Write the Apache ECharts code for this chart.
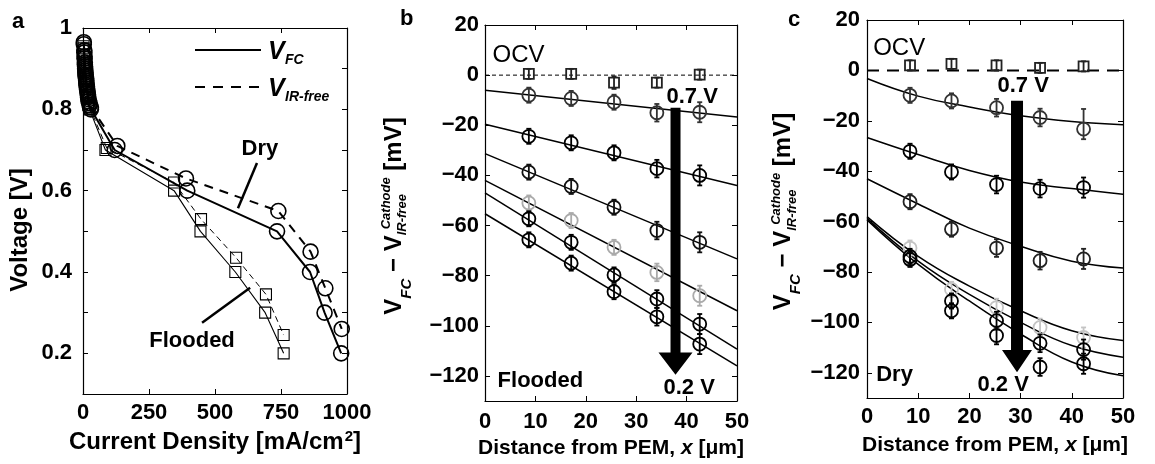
<!DOCTYPE html>
<html><head><meta charset="utf-8">
<script src="https://cdn.jsdelivr.net/npm/echarts@6/dist/echarts.min.js"></script>
<style>html,body{margin:0;padding:0;background:#fff}#c{width:1155px;height:464px}</style>
</head><body><div id="c"></div>
<script>
const FONT = '"Liberation Sans", Arial, Helvetica, sans-serif';

// ---------------- Panel a : polarization curves ----------------
const aXTicks = [0, 250, 500, 750, 1000];
const aYTicks = [0.2, 0.3, 0.4, 0.5, 0.6, 0.7, 0.8, 0.9, 1];
const aYLabels = [0.2, 0.4, 0.6, 0.8, 1];
const aDryFC = [[3,0.96],[5,0.94],[6,0.925],[7,0.91],[8,0.90],[9,0.89],[10,0.88],[12,0.87],[13,0.86],[15,0.85],[17,0.84],[19,0.83],[21,0.82],[25,0.81],[30,0.80],[120,0.70],[395,0.60],[735,0.50],[860,0.40],[915,0.30],[978,0.20]];
const aDryIR = [[3,0.965],[5,0.945],[6,0.93],[7,0.915],[8,0.905],[9,0.895],[10,0.885],[12,0.875],[13,0.865],[15,0.855],[17,0.845],[19,0.835],[21,0.825],[25,0.815],[30,0.805],[130,0.71],[390,0.63],[740,0.55],[862,0.45],[918,0.36],[980,0.26]];
const aFloFC = [[2,0.95],[4,0.93],[6,0.91],[8,0.89],[10,0.87],[13,0.85],[16,0.83],[20,0.81],[25,0.80],[85,0.70],[345,0.60],[445,0.50],[577,0.40],[690,0.30],[760,0.20]];
const aFloIR = [[2,0.955],[4,0.935],[6,0.915],[8,0.895],[10,0.875],[13,0.855],[16,0.835],[20,0.815],[25,0.805],[90,0.705],[345,0.62],[447,0.53],[580,0.435],[693,0.345],[760,0.245]];

// ---------------- Panel b : Flooded ----------------
const xTicksBC = [0, 10, 20, 30, 40, 50];
const yTicksBC = [-120, -100, -80, -60, -40, -20, 0, 20];
const bX = [8.7, 17.1, 25.6, 34.1, 42.6];
const bOCV = [0.5, 0.5, -3.0, -3.0, 0.2];
const bOCVErr = [2, 2, 2.5, 2, 2];
const bS1 = [-8.0, -9.3, -10.8, -15.0, -14.8];
const bS2 = [-24.4, -27.0, -31.0, -37.3, -40.0];
const bS3 = [-38.7, -44.4, -52.7, -62.0, -66.7];
const bS4 = [-51.0, -58.0, -68.7, -78.7, -88.0];
const bS5 = [-57.3, -66.7, -79.7, -89.3, -99.3];
const bS6 = [-65.7, -75.0, -86.4, -96.4, -107.3];
const bErr = [3, 3, 3, 3.5, 4];
const bFitX = [0, 50];
const bF1 = [-6.0, -16.7];
const bF2 = [-19.6, -44.0];
const bF3 = [-31.3, -73.3];
const bF4 = [-42.0, -94.0];
const bF5 = [-47.0, -109.3];
const bF6 = [-55.3, -116.0];

// ---------------- Panel c : Dry ----------------
const cX = [8.4, 16.5, 25.3, 33.8, 42.3];
const cOCV = [2.0, 2.6, 2.0, 1.0, 1.6];
const cOCVErr = [2, 2, 2, 2, 2];
const cS1 = [-9.9, -12.1, -14.8, -18.7, -23.3];
const cS2 = [-32.1, -40.3, -45.3, -46.9, -46.5];
const cS3 = [-52.1, -63.0, -70.5, -75.5, -74.8];
const cS4 = [-70.5, -86.9, -94.1, -102.0, -106.0];
const cS5 = [-73.8, -91.5, -99.3, -108.3, -110.8];
const cS6 = [-75.0, -95.4, -105.2, -117.7, -116.4];
const cErr = [3, 3, 3.5, 3.5, 4];
const cErrTop = [3, 3, 3.5, 3.5, 8];
const cFitX = [0, 10, 20, 30, 40, 50];
const cF1 = [-3.2, -10.2, -14.5, -18.0, -20.3, -21.6];
const cF2 = [-26.6, -33.4, -39.7, -44.3, -46.9, -49.1];
const cF3 = [-43.0, -53.0, -62.6, -69.8, -75.7, -78.4];
const cF4 = [-58.0, -73.8, -85.6, -95.4, -103.3, -107.2];
const cF5 = [-58.7, -75.7, -88.9, -100.0, -109.2, -113.8];
const cF6 = [-59.3, -77.0, -91.5, -104.6, -115.7, -121.2];

// arrows: [x, yTop, yHeadBase, yTip]
const bArrow = [37.8, -13, -110.7, -119.5];
const cArrow = [29.3, -12, -111, -119.8];

// ---------------- helpers ----------------
const zip = (xs, ys) => xs.map((x, i) => [x, ys[i]]);
const zip3 = (xs, ys, es) => xs.map((x, i) => [x, ys[i], es[i]]);
const minus = v => (v < 0 ? '\u2212' + Math.abs(v) : String(v));

const tickLbl = {color:'#000', fontSize:22, fontWeight:'bold', fontFamily:FONT};

function axesFor(grid, xr, yr, xTicks, yTicks, yLabels, xMargin, yMargin, xName, xGap, xNameSize) {
  const tick = {show:true, inside:true, length:5, lineStyle:{color:'#000', width:1}};
  const line = {show:true, onZero:false, lineStyle:{color:'#000', width:1.2}};
  const xs = [
    {type:'value', gridIndex:grid, min:xr[0], max:xr[1], position:'bottom',
     axisLine:line, splitLine:{show:false},
     axisTick:Object.assign({customValues:xTicks}, tick),
     axisLabel:Object.assign({customValues:xTicks, margin:xMargin, formatter:minus}, tickLbl),
     name:xName, nameLocation:'middle', nameGap:xGap,
     nameTextStyle:{color:'#000', fontSize:xNameSize, fontWeight:'bold', fontFamily:FONT,
       rich:{i:{fontStyle:'italic', fontWeight:'bold', fontSize:xNameSize, fontFamily:FONT, color:'#000'},
             s:{fontWeight:'bold', fontSize:15, fontFamily:FONT, color:'#000', verticalAlign:'top', padding:[0,0,12,1]}}}},
    {type:'value', gridIndex:grid, min:xr[0], max:xr[1], position:'top',
     axisLine:line, splitLine:{show:false}, axisLabel:{show:false},
     axisTick:Object.assign({customValues:xTicks}, tick)}
  ];
  const ys = [
    {type:'value', gridIndex:grid, min:yr[0], max:yr[1], position:'left',
     axisLine:line, splitLine:{show:false},
     axisTick:Object.assign({customValues:yTicks}, tick),
     axisLabel:Object.assign({customValues:yLabels, margin:yMargin, formatter:minus}, tickLbl)},
    {type:'value', gridIndex:grid, min:yr[0], max:yr[1], position:'right',
     axisLine:line, splitLine:{show:false}, axisLabel:{show:false},
     axisTick:Object.assign({customValues:yTicks}, tick)}
  ];
  return {xs, ys};
}

const A = axesFor(0, [0,1000], [0.1,1], aXTicks, aYTicks, aYLabels, 8, 11, 'Current Density [mA/cm{s|2}]', 30, 24);
const B = axesFor(1, [0,50], [-130,20], xTicksBC, yTicksBC, yTicksBC, 10, 6, 'Distance from PEM, {i|x} [\u03bcm]', 33, 21);
const C = axesFor(2, [0,50], [-130,20], xTicksBC, yTicksBC, yTicksBC, 8, 7, 'Distance from PEM, {i|x} [\u03bcm]', 37, 21);

function markerRender(kind, color) {
  return function (params, api) {
    const x = api.value(0), y = api.value(1), e = api.value(2);
    const eTop = api.value(3) || e;
    const p = api.coord([x, y]);
    const t = api.coord([x, y + eTop]);
    const b = api.coord([x, y - e]);
    const st = {stroke: color, fill: 'none', lineWidth: 1.8};
    const ch = [
      {type:'line', shape:{x1:p[0], y1:t[1], x2:p[0], y2:b[1]}, style:st},
      {type:'line', shape:{x1:p[0]-2.5, y1:t[1], x2:p[0]+2.5, y2:t[1]}, style:st},
      {type:'line', shape:{x1:p[0]-2.5, y1:b[1], x2:p[0]+2.5, y2:b[1]}, style:st}
    ];
    if (kind === 'circle') ch.push({type:'circle', shape:{cx:p[0], cy:p[1], r:6.5}, style:st});
    else ch.push({type:'rect', shape:{x:p[0]-5, y:p[1]-5, width:10, height:10}, style:st});
    return {type:'group', children:ch};
  };
}
function markerSeries(xi, data, kind, color) {
  return {type:'custom', xAxisIndex:xi, yAxisIndex:xi, renderItem:markerRender(kind, color),
          data:data, z:5, silent:true};
}
function fitSeries(xi, xs, ys, smooth) {
  return {type:'line', xAxisIndex:xi, yAxisIndex:xi, data:zip(xs, ys), symbol:'none',
          smooth:smooth ? 0.45 : false,
          lineStyle:{color:'#000', width:1.5}, z:3, silent:true};
}
function arrowSeries(xi, arr, shaftW, headW) {
  return {type:'custom', xAxisIndex:xi, yAxisIndex:xi, data:[arr], z:6, silent:true,
    renderItem:function (params, api) {
      const x = api.value(0);
      const top = api.coord([x, api.value(1)]);
      const hb = api.coord([x, api.value(2)]);
      const tip = api.coord([x, api.value(3)]);
      const cx = top[0], s = shaftW / 2, h = headW / 2;
      return {type:'polygon', shape:{points:[[cx-s, top[1]],[cx+s, top[1]],[cx+s, hb[1]],[cx+h, hb[1]],
        [cx, tip[1]],[cx-h, hb[1]],[cx-s, hb[1]]]}, style:{fill:'#000'}};
    }};
}
function aSeries(data, symbol, size, width, dash, bw) {
  return {type:'line', xAxisIndex:0, yAxisIndex:0, data:data, symbol:symbol, symbolSize:size,
    lineStyle:{color:'#000', width:width, type:dash || 'solid'},
    itemStyle:{color:'transparent', borderColor:'#000', borderWidth:bw}, silent:true};
}

const series = [
  aSeries(aFloIR, 'rect', 11, 1, [6,4], 1.1),
  aSeries(aFloFC, 'rect', 11, 1.1, null, 1.1),
  aSeries(aDryIR, 'circle', 15, 2, [9,7], 1.6),
  aSeries(aDryFC, 'circle', 15, 2, null, 1.6),

  {type:'line', xAxisIndex:2, yAxisIndex:2, data:[[0,0],[50,0]], symbol:'none',
   lineStyle:{color:'#000', width:1, type:[4,3]}, silent:true},
  fitSeries(2, bFitX, bF1), fitSeries(2, bFitX, bF2), fitSeries(2, bFitX, bF3),
  fitSeries(2, bFitX, bF4), fitSeries(2, bFitX, bF5), fitSeries(2, bFitX, bF6),
  markerSeries(2, zip3(bX, bOCV, bOCVErr), 'rect', '#222'),
  markerSeries(2, zip3(bX, bS1, bErr), 'circle', '#333'),
  markerSeries(2, zip3(bX, bS2, bErr), 'circle', '#000'),
  markerSeries(2, zip3(bX, bS3, bErr), 'circle', '#111'),
  markerSeries(2, zip3(bX, bS4, bErr), 'circle', '#aaa'),
  markerSeries(2, zip3(bX, bS5, bErr), 'circle', '#000'),
  markerSeries(2, zip3(bX, bS6, bErr), 'circle', '#000'),
  arrowSeries(2, bArrow, 10, 34),

  {type:'line', xAxisIndex:4, yAxisIndex:4, data:[[0,0],[50,0]], symbol:'none',
   lineStyle:{color:'#000', width:2, type:[12,8]}, silent:true},
  fitSeries(4, cFitX, cF1, true), fitSeries(4, cFitX, cF2, true), fitSeries(4, cFitX, cF3, true),
  fitSeries(4, cFitX, cF4, true), fitSeries(4, cFitX, cF5, true), fitSeries(4, cFitX, cF6, true),
  markerSeries(4, zip3(cX, cOCV, cOCVErr), 'rect', '#222'),
  markerSeries(4, cX.map((x, i) => [x, cS1[i], cErr[i], cErrTop[i]]), 'circle', '#333'),
  markerSeries(4, zip3(cX, cS2, cErr), 'circle', '#000'),
  markerSeries(4, zip3(cX, cS3, cErr), 'circle', '#222'),
  markerSeries(4, zip3(cX, cS4, cErr), 'circle', '#c4c4c4'),
  markerSeries(4, zip3(cX, cS5, cErr), 'circle', '#000'),
  markerSeries(4, zip3(cX, cS6, cErr), 'circle', '#000'),
  arrowSeries(4, cArrow, 12, 30)
];

const chart = echarts.init(document.getElementById('c'), null, {renderer:'canvas'});
chart.setOption({
  backgroundColor:'#fff',
  animation:false,
  textStyle:{fontFamily:FONT},
  grid:[
    {left:83, top:28, width:264, height:366},
    {left:485, top:25, width:252, height:376},
    {left:867, top:20, width:256, height:378}
  ],
  xAxis: A.xs.concat(B.xs, C.xs),
  yAxis: A.ys.concat(B.ys, C.ys),
  series: series
});

// ---------------- annotations ----------------
const mctx = document.createElement('canvas').getContext('2d');
function tw(text, font) { mctx.font = font; return mctx.measureText(text).width; }
function txt(text, x, y, font, align, valign, extra) {
  return Object.assign({type:'text', silent:true, z:100, style:{text:text, x:x, y:y, font:font, fill:'#000',
    textAlign:align || 'left', align:align || 'left',
    textVerticalAlign:valign || 'middle', verticalAlign:valign || 'middle'}}, extra || {});
}
function yTitle(cx, cy, big, sub, sup) {
  const fB = 'bold ' + big + 'px ' + FONT;
  const fS = 'italic bold ' + sub + 'px ' + FONT;
  const fU = 'italic bold ' + sup + 'px ' + FONT;
  const parts = [];
  let u = 0;
  parts.push(['V', u, 0, fB]); u += tw('V', fB);
  parts.push(['FC', u, big * 0.52, fS]); u += tw('FC', fS);
  parts.push([' \u2212 V', u, 0, fB]); u += tw(' \u2212 V', fB);
  parts.push(['IR-free', u, big * 0.36, fU]);
  parts.push(['Cathode', u + big * 0.25, -big * 0.3, fU]);
  u += Math.max(tw('IR-free', fU), tw('Cathode', fU) + big * 0.25);
  parts.push([' [mV]', u, 0, fB]); u += tw(' [mV]', fB);
  const half = u / 2;
  return {type:'group', x:cx, y:cy, rotation:Math.PI / 2, silent:true,
    children: parts.map(p => txt(p[0], p[1] - half, p[2], p[3], 'left', 'middle'))};
}
function px(gi, pt) { return chart.convertToPixel({gridIndex:gi}, pt); }

const fT = 'bold 22px ' + FONT;
const fOCV = '24px ' + FONT;
const g = [];
// panel letters
g.push(txt('a', 12, 22, 'bold 22px ' + FONT, 'left', 'middle'));
g.push(txt('b', 400, 19, 'bold 22px ' + FONT, 'left', 'middle'));
g.push(txt('c', 788, 20, 'bold 22px ' + FONT, 'left', 'middle'));
// y titles
g.push({type:'group', x:20, y:230, rotation:Math.PI / 2, children:[txt('Voltage [V]', 0, 0, 'bold 24px ' + FONT, 'center', 'middle')]});
g.push(yTitle(394, 216, 24, 15, 13));
g.push(yTitle(783.5, 211.5, 24, 15, 13));
// panel a legend
g.push({type:'line', silent:true, shape:{x1:195, y1:50, x2:261, y2:50}, style:{stroke:'#000', lineWidth:2}});
g.push({type:'line', silent:true, shape:{x1:195, y1:87, x2:261, y2:87}, style:{stroke:'#000', lineWidth:2, lineDash:[10,8]}});
g.push(txt('V', 268, 52, 'italic bold 25px ' + FONT));
g.push(txt('FC', 285, 60, 'italic bold 14px ' + FONT));
g.push(txt('V', 268, 89, 'italic bold 25px ' + FONT));
g.push(txt('IR-free', 285, 97, 'italic bold 14px ' + FONT));
// panel a labels
let p = px(0, [670, 0.702]); g.push(txt('Dry', p[0], p[1], fT, 'center'));
p = px(0, [413, 0.23]); g.push(txt('Flooded', p[0], p[1], fT, 'center'));
let p1 = px(0, [659, 0.668]), p2 = px(0, [587, 0.557]);
g.push({type:'line', silent:true, shape:{x1:p1[0], y1:p1[1], x2:p2[0], y2:p2[1]}, style:{stroke:'#000', lineWidth:2.5}});
p1 = px(0, [451, 0.275]); p2 = px(0, [633, 0.361]);
g.push({type:'line', silent:true, shape:{x1:p1[0], y1:p1[1], x2:p2[0], y2:p2[1]}, style:{stroke:'#000', lineWidth:2.5}});
// panel b labels
p = px(1, [1.5, 8]); g.push(txt('OCV', p[0], p[1], fOCV, 'left'));
p = px(1, [41.1, -8.5]); g.push(txt('0.7 V', p[0], p[1], fT, 'center'));
p = px(1, [40.5, -124.7]); g.push(txt('0.2 V', p[0], p[1], fT, 'center'));
p = px(1, [2.5, -122]); g.push(txt('Flooded', p[0], p[1], fT, 'left'));
// panel c labels
p = px(2, [1.2, 8.9]); g.push(txt('OCV', p[0], p[1], fOCV, 'left'));
p = px(2, [30.5, -6.2]); g.push(txt('0.7 V', p[0], p[1], fT, 'center'));
p = px(2, [26.6, -125]); g.push(txt('0.2 V', p[0], p[1], fT, 'center'));
p = px(2, [1.8, -121]); g.push(txt('Dry', p[0], p[1], fT, 'left'));

chart.setOption({graphic:{elements:g}});
</script></body></html>
